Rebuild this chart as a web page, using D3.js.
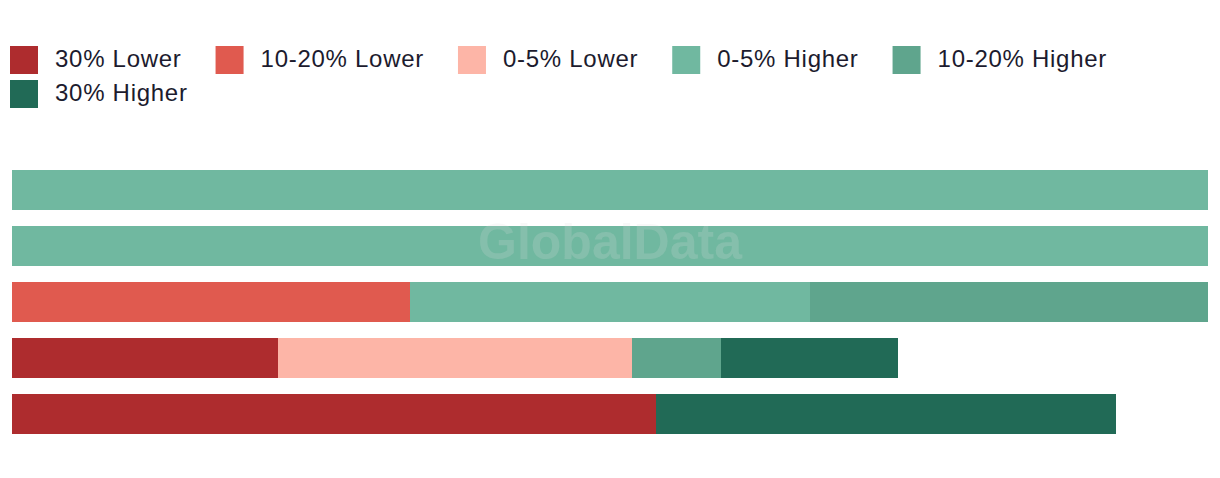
<!DOCTYPE html>
<html>
<head>
<meta charset="utf-8">
<script src="https://cdn.jsdelivr.net/npm/d3@7"></script>
<style>
  body { margin: 0; background: #fff; }
  svg { display: block; }
</style>
</head>
<body>
<div id="chart"></div>
<script>
// bars, top to bottom (no labels shown on the chart)
const categories = ["Row 1", "Row 2", "Row 3", "Row 4", "Row 5"]

const seriesNames = ["30% Lower", "10-20% Lower", "0-5% Lower", "0-5% Higher", "10-20% Higher", "30% Higher"]
const seriesColors = ["#ae2c2e", "#e05a4f", "#fdb5a7", "#70b8a0", "#5fa58d", "#216a56"]

// values per series, one entry for each bar
const lower30 = [0, 0, 0, 3, 7.27]
const lower10to20 = [0, 0, 4.49, 0, 0]
const lower0to5 = [0, 0, 0, 4, 0]
const higher0to5 = [13.5, 13.5, 4.52, 0, 0]
const higher10to20 = [0, 0, 4.49, 1, 0]
const higher30 = [0, 0, 0, 2, 5.19]

function drawChart() {
    const width = 1220
    const height = 478

    const seriesValues = [lower30, lower10to20, lower0to5, higher0to5, higher10to20, higher30]

    // rows for the stack
    const table = categories.map((c, i) => {
        const row = { category: c }
        seriesNames.forEach((s, j) => { row[s] = seriesValues[j][i] })
        return row
    })

    const stacked = d3.stack().keys(seriesNames)(table)

    const maxTotal = d3.max(table, d => d3.sum(seriesNames, s => d[s]))

    const x = d3.scaleLinear()
        .domain([0, maxTotal])
        .range([12, 1208])

    const y = d3.scaleBand()
        .domain(categories)
        .range([162, 442])
        .paddingInner(16 / 56)
        .paddingOuter(8 / 56)

    const color = d3.scaleOrdinal()
        .domain(seriesNames)
        .range(seriesColors)

    const svg = d3.select("#chart")
        .append("svg")
        .attr("width", width)
        .attr("height", height)

    // legend
    const legend = svg.append("g")
        .attr("font-family", "'Liberation Sans', Arial, sans-serif")
        .attr("font-size", 24)
        .attr("letter-spacing", "0.72px")
        .attr("fill", "#1c1b2e")

    let lx = 10
    let ly = 46
    seriesNames.forEach(name => {
        const item = legend.append("g")
        item.append("rect")
            .attr("width", 28)
            .attr("height", 28)
            .attr("fill", color(name))
        const label = item.append("text")
            .attr("x", 45)
            .attr("y", 21)
            .text(name)
        const w = 45 + label.node().getComputedTextLength()
        if (lx + w > 1208) {
            lx = 10
            ly += 34
        }
        item.attr("transform", `translate(${lx},${ly})`)
        lx += w + 34
    })

    // bars
    svg.append("g")
        .attr("shape-rendering", "crispEdges")
        .selectAll("g")
        .data(stacked)
        .join("g")
        .attr("fill", d => color(d.key))
        .selectAll("rect")
        .data(d => d.filter(p => p[1] > p[0]))
        .join("rect")
        .attr("x", d => x(d[0]))
        .attr("y", d => y(d.data.category))
        .attr("width", d => x(d[1]) - x(d[0]))
        .attr("height", y.bandwidth())

    // watermark
    svg.append("text")
        .attr("x", 610)
        .attr("y", 259)
        .attr("text-anchor", "middle")
        .attr("font-family", "'Liberation Sans', Arial, sans-serif")
        .attr("font-weight", "bold")
        .attr("font-size", 50)
        .attr("fill", "#dddddd")
        .attr("fill-opacity", 0.2)
        .text("GlobalData")
}
drawChart()
</script>
</body>
</html>
